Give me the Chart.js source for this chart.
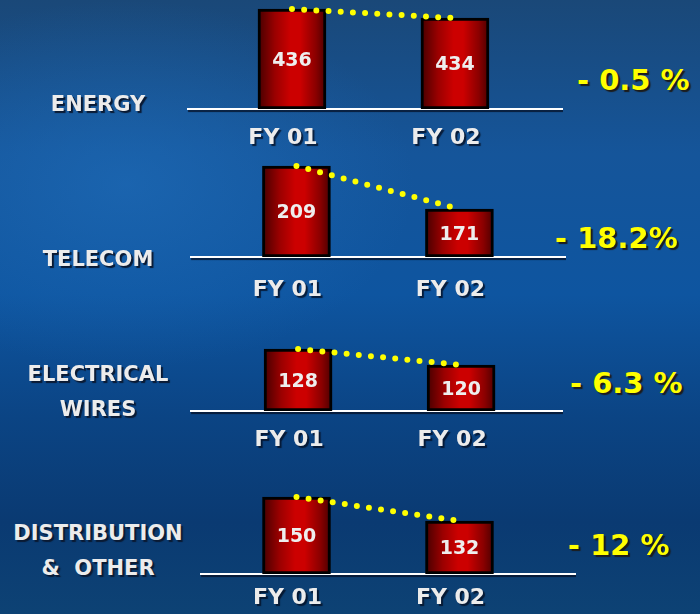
<!DOCTYPE html>
<html>
<head>
<meta charset="utf-8">
<script src="https://cdn.jsdelivr.net/npm/chart.js@4.4.0/dist/chart.umd.min.js"></script>
<style>
  html, body { margin: 0; padding: 0; }
  #board {
    position: relative; width: 700px; height: 614px; overflow: hidden;
    background:
      radial-gradient(ellipse 55% 40% at 18% 30%, rgba(32,112,190,0.55), rgba(32,112,190,0) 75%),
      linear-gradient(180deg, #1a4878 0%, #15559a 25%, #0e55a0 48%, #0b4484 68%, #0a3a72 85%, #0d4274 100%);
    font-family: "DejaVu Sans", Verdana, sans-serif; font-weight: bold;
  }
  #board canvas { position: absolute; }
  .seg {
    position: absolute; width: 196px; text-align: center; white-space: pre;
    color: #ececec; font-size: 21px; line-height: 35px;
    text-shadow: 2px 2px 1px #0a1a33;
  }
  .chg {
    position: absolute; color: #ffff00; font-size: 29px; line-height: 34px; white-space: pre;
    text-shadow: 2px 2px 1px #1c1c1c;
  }
</style>
</head>
<body>
<div id="board"></div>
<script>
// sales by segment, FY 01 vs FY 02
const categories = ['FY 01', 'FY 02'];
const segments = ['ENERGY', 'TELECOM', 'ELECTRICAL\nWIRES', 'DISTRIBUTION\n&  OTHER'];
const fy01 = [436, 209, 128, 150];
const fy02 = [434, 171, 120, 132];
const changes = ['- 0.5 %', '- 18.2%', '- 6.3 %', '- 12 %'];

// one small chart per segment: where it sits and its axis ranges
const panels = [
  { base: 109, h: 104, left: 187, width: 376, xMin: -0.644, yMin: 413.8, yMax: 436.9, pad: 16, segY: 104, chgX: 577, chgY: 80 },
  { base: 257, h: 96,  left: 190, width: 376, xMin: -0.653, yMin: 128.6, yMax: 213.4, pad: 20, segY: 259, chgX: 555, chgY: 238 },
  { base: 411, h: 66,  left: 190, width: 373, xMin: -0.663, yMin: 97,    yMax: 130,   pad: 16, segY: 392, chgX: 570, chgY: 383 },
  { base: 574, h: 81,  left: 200, width: 376, xMin: -0.592, yMin: 92.25, yMax: 153,   pad: 11, segY: 551, chgX: 568, chgY: 545 }
];
const AXIS_H = 45;
const UNIT = 163; // px between the two bars

const board = document.getElementById('board');

// red bar fill, dark at the edges and bright a bit right of centre
barFill = (ctx) => {
  const chart = ctx.chart;
  const xs = chart.scales.x;
  if (!xs || !chart.chartArea) return '#b00000';
  const cx = xs.getPixelForValue(ctx.dataIndex);
  const g = chart.ctx.createLinearGradient(cx - 34, 0, cx + 34, 0);
  g.addColorStop(0, '#460000');
  g.addColorStop(0.25, '#9a0000');
  g.addColorStop(0.48, '#cc0000');
  g.addColorStop(0.62, '#cc0000');
  g.addColorStop(0.85, '#8a0000');
  g.addColorStop(1, '#4c0000');
  return g;
};

// numbers written inside the bars
const barValues = {
  id: 'barValues',
  afterDatasetsDraw(chart) {
    const meta = chart.getDatasetMeta(0);
    const c = chart.ctx;
    const bottom = chart.chartArea.bottom;
    c.save();
    c.font = 'bold 19px "DejaVu Sans", Verdana, sans-serif';
    c.fillStyle = '#eeeeee';
    c.textAlign = 'center';
    c.textBaseline = 'middle';
    meta.data.forEach((bar, i) => {
      const v = chart.data.datasets[0].data[i].y;
      c.fillText(String(v), bar.x, (bar.y + Math.min(bar.base, bottom)) / 2 + 2);
    });
    c.restore();
  }
};

// soft shadow under the axis labels
const labelShadow = {
  id: 'labelShadow',
  beforeDraw(chart) {
    const c = chart.ctx;
    c.save();
    c.shadowColor = 'rgba(5,15,35,0.8)';
    c.shadowOffsetX = 2;
    c.shadowOffsetY = 2;
    c.shadowBlur = 1;
  },
  beforeDatasetsDraw(chart) {
    chart.ctx.restore();
  }
};

panels.forEach((p, i) => {
  const cv = document.createElement('canvas');
  cv.width = p.width;
  cv.height = p.h + AXIS_H;
  cv.style.left = p.left + 'px';
  cv.style.top = (p.base - p.h) + 'px';
  board.appendChild(cv);

  const pts = [{ x: 0, y: fy01[i] }, { x: 1, y: fy02[i] }];

  new Chart(cv.getContext('2d'), {
    type: 'bar',
    data: {
      datasets: [
        {
          type: 'bar',
          data: pts,
          base: p.yMin,
          backgroundColor: barFill,
          borderColor: '#000000',
          borderWidth: 3,
          borderSkipped: false,
          barThickness: 68,
          order: 2
        },
        {
          type: 'line',
          data: pts,
          borderColor: '#ffff00',
          borderWidth: 6,
          borderDash: [0, 12.2],
          borderCapStyle: 'round',
          pointRadius: 0,
          tension: 0,
          clip: false,
          order: 1
        }
      ]
    },
    options: {
      responsive: false,
      animation: false,
      events: [],
      layout: { padding: 0 },
      plugins: { legend: { display: false }, tooltip: { enabled: false } },
      scales: {
        x: {
          type: 'linear',
          offset: false,
          min: p.xMin,
          max: p.xMin + p.width / UNIT,
          grid: { display: false, drawTicks: false, offset: false },
          border: { display: true, color: '#ffffff', width: 2 },
          afterBuildTicks: (axis) => { axis.ticks = categories.map((c, k) => ({ value: k })); },
          afterFit: (axis) => { axis.height = AXIS_H; },
          ticks: {
            padding: p.pad,
            labelOffset: -9,
            color: '#ececec',
            font: { family: '"DejaVu Sans", Verdana, sans-serif', size: 22, weight: 'bold' },
            callback: (v) => categories[v]
          }
        },
        y: { display: false, min: p.yMin, max: p.yMax }
      }
    },
    plugins: [labelShadow, barValues]
  });

  // segment name on the left
  const seg = document.createElement('div');
  seg.className = 'seg';
  seg.textContent = segments[i];
  const lines = segments[i].split('\n').length;
  seg.style.left = '0px';
  seg.style.top = (p.segY - lines * 35 / 2) + 'px';
  board.appendChild(seg);

  // change from FY 01 to FY 02 on the right
  const chg = document.createElement('div');
  chg.className = 'chg';
  chg.textContent = changes[i];
  chg.style.left = p.chgX + 'px';
  chg.style.top = (p.chgY - 17) + 'px';
  board.appendChild(chg);
});
</script>
</body>
</html>
